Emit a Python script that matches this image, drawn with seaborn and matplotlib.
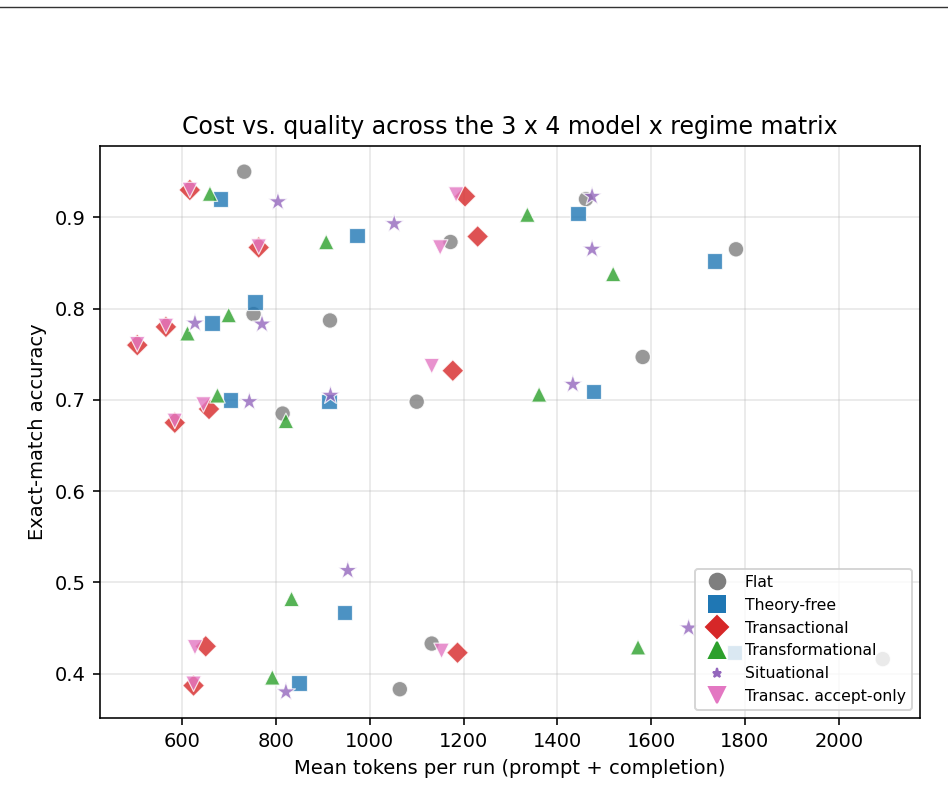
import numpy as np
import pandas as pd
import matplotlib
matplotlib.use("Agg")
import matplotlib.pyplot as plt
from matplotlib.lines import Line2D
import seaborn as sns

# regimes in legend / drawing order
regimes = ["Flat", "Theory-free", "Transactional", "Transformational",
           "Situational", "Transac. accept-only"]

# mean tokens per run, one list per regime (12 runs each)
flat_tok = [732, 752, 915, 814, 1172, 1461, 1100, 1582, 1781, 1132, 1064, 2094]
flat_acc = [0.950, 0.794, 0.787, 0.685, 0.873, 0.920, 0.698, 0.747, 0.865, 0.433, 0.383, 0.416]

tfree_tok = [682, 973, 755, 663, 703, 913, 1444, 1477, 1735, 946, 849, 1778]
tfree_acc = [0.920, 0.880, 0.807, 0.784, 0.700, 0.698, 0.904, 0.709, 0.852, 0.467, 0.390, 0.423]

transac_tok = [616, 763, 565, 504, 657, 584, 1203, 1230, 1177, 650, 624, 1187]
transac_acc = [0.930, 0.867, 0.780, 0.760, 0.690, 0.675, 0.923, 0.879, 0.732, 0.430, 0.387, 0.423]

transf_tok = [659, 907, 699, 611, 675, 821, 1336, 1519, 1361, 833, 792, 1572]
transf_acc = [0.926, 0.873, 0.793, 0.773, 0.705, 0.677, 0.903, 0.838, 0.706, 0.482, 0.396, 0.429]

situ_tok = [804, 770, 627, 743, 916, 1052, 1474, 1474, 1433, 953, 821, 1680]
situ_acc = [0.917, 0.783, 0.784, 0.698, 0.705, 0.893, 0.923, 0.865, 0.717, 0.513, 0.380, 0.450]

accept_tok = [616, 763, 565, 504, 645, 584, 1184, 1150, 1132, 627, 624, 1153]
accept_acc = [0.930, 0.868, 0.781, 0.761, 0.695, 0.677, 0.925, 0.867, 0.737, 0.429, 0.389, 0.425]

tokens = [flat_tok, tfree_tok, transac_tok, transf_tok, situ_tok, accept_tok]
accuracy = [flat_acc, tfree_acc, transac_acc, transf_acc, situ_acc, accept_acc]

df = pd.concat(
    [pd.DataFrame({"tokens": t, "accuracy": a, "regime": r})
     for r, t, a in zip(regimes, tokens, accuracy)],
    ignore_index=True,
)

colors = {
    "Flat": "#7f7f7f",
    "Theory-free": "#1f77b4",
    "Transactional": "#d62728",
    "Transformational": "#2ca02c",
    "Situational": "#9467bd",
    "Transac. accept-only": "#e377c2",
}
markers = {
    "Flat": "o",
    "Theory-free": "s",
    "Transactional": "D",
    "Transformational": "^",
    "Situational": "*",
    "Transac. accept-only": "v",
}
sizes = {
    "Flat": 60,
    "Theory-free": 60,
    "Transactional": 60,
    "Transformational": 60,
    "Situational": 100,
    "Transac. accept-only": 60,
}
legend_ms = {
    "Flat": 7.8,
    "Theory-free": 7.8,
    "Transactional": 7.8,
    "Transformational": 7.8,
    "Situational": 4.6,
    "Transac. accept-only": 7.8,
}

fig = plt.figure(figsize=(948 / 144, 785 / 144), dpi=144)
ax = fig.add_axes([0.1055, 0.0854, 0.865, 0.729])

sns.scatterplot(data=df, x="tokens", y="accuracy", hue="regime", style="regime",
                size="regime", sizes=sizes, markers=markers, palette=colors,
                hue_order=regimes, style_order=regimes, size_order=regimes,
                alpha=0.8, edgecolor="white", linewidth=0.6, legend=False, ax=ax)

ax.grid(True, alpha=0.3)
ax.set_axisbelow(True)
ax.set_xlabel("Mean tokens per run (prompt + completion)", fontsize=9.75)
ax.set_ylabel("Exact-match accuracy", fontsize=9.75)
ax.set_title("Cost vs. quality across the 3 x 4 model x regime matrix", fontsize=11.8)
ax.tick_params(labelsize=9.75)

handles = [Line2D([], [], linestyle="", marker=markers[r], color=colors[r],
                  markersize=legend_ms[r], label=r) for r in regimes]
ax.legend(handles=handles, loc="lower right", fontsize=7.8)

# thin rule across the top of the figure
fig.add_artist(Line2D([0, 1], [0.991, 0.991], color="#333333", lw=0.7))

fig.savefig("out.png", dpi=144)
plt.close(fig)
